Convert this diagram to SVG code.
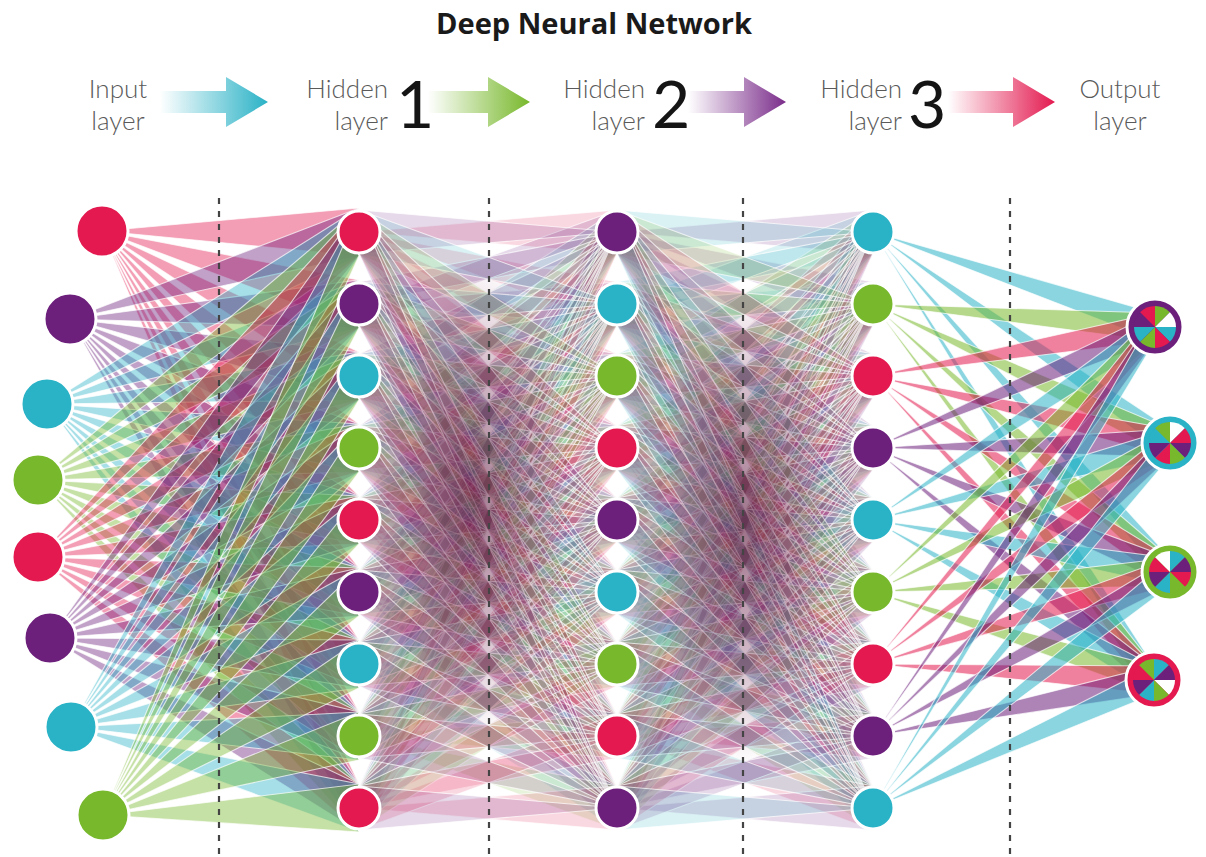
<svg xmlns="http://www.w3.org/2000/svg" xmlns:xlink="http://www.w3.org/1999/xlink" width="1206" height="857" viewBox="0 0 1206 857">
<style>
.hd{font-family:Lato,"Liberation Sans",sans-serif;font-weight:300;font-size:26px;fill:#5a5a5a}
.dg{font-family:Lato,"Liberation Sans",sans-serif;font-weight:400;font-size:66px;fill:#151515}
.ttl{font-family:"Open Sans","Liberation Sans",sans-serif;font-weight:700;font-size:28px;fill:#1a1a1a}
.w{stroke:#fff;stroke-width:1.1;stroke-opacity:.7}
.wa{fill-opacity:.42}.wb{fill-opacity:.17}.wd{fill-opacity:.55}
.r{fill:#e3194f}.p{fill:#6c1f7b}.c{fill:#2ab2c6}.g{fill:#78b82c}
.n{stroke:#fff;stroke-width:3}
.ds{stroke:#444;stroke-width:2.2;stroke-dasharray:6 7;fill:none}
</style>
<defs>
<linearGradient id="gc" x1="0" x2="1" y1="0" y2="0"><stop offset="0" stop-color="#2ab2c6" stop-opacity="0"/><stop offset="1" stop-color="#2ab2c6"/></linearGradient>
<linearGradient id="gg" x1="0" x2="1" y1="0" y2="0"><stop offset="0" stop-color="#78b82c" stop-opacity="0"/><stop offset="1" stop-color="#78b82c"/></linearGradient>
<linearGradient id="gp" x1="0" x2="1" y1="0" y2="0"><stop offset="0" stop-color="#7a2c8a" stop-opacity="0"/><stop offset="1" stop-color="#7a2c8a"/></linearGradient>
<linearGradient id="gr" x1="0" x2="1" y1="0" y2="0"><stop offset="0" stop-color="#e3194f" stop-opacity="0"/><stop offset="1" stop-color="#e3194f"/></linearGradient>
<radialGradient id="dark"><stop offset="0" stop-color="#5a1238" stop-opacity=".6"/><stop offset=".55" stop-color="#6a1a48" stop-opacity=".3"/><stop offset="1" stop-color="#7a2050" stop-opacity="0"/></radialGradient>
<path id="w0" d="M0 0L0-21A21 21 0 0 1 14.85-14.85Z"/>
<path id="w1" d="M0 0L14.85-14.85A21 21 0 0 1 21 0Z"/>
<path id="w2" d="M0 0L21 0A21 21 0 0 1 14.85 14.85Z"/>
<path id="w3" d="M0 0L14.85 14.85A21 21 0 0 1 0 21Z"/>
<path id="w4" d="M0 0L0 21A21 21 0 0 1-14.85 14.85Z"/>
<path id="w5" d="M0 0L-14.85 14.85A21 21 0 0 1-21 0Z"/>
<path id="w6" d="M0 0L-21 0A21 21 0 0 1-14.85-14.85Z"/>
<path id="w7" d="M0 0L-14.85-14.85A21 21 0 0 1 0-21Z"/>
</defs>
<rect width="1206" height="857" fill="#fff"/>
<text class="ttl" x="594" y="34" text-anchor="middle" textLength="316" lengthAdjust="spacingAndGlyphs">Deep Neural Network</text>
<g id="header">
<text class="hd" x="118" y="98" text-anchor="middle">Input</text>
<text class="hd" x="118" y="130" text-anchor="middle">layer</text>
<path d="M160 91H226V77L268 102L226 127V113H160Z" fill="url(#gc)"/>
<text class="hd" x="388" y="98" text-anchor="end">Hidden</text>
<text class="hd" x="388" y="130" text-anchor="end">layer</text>
<text class="dg" x="396" y="128">1</text>
<path d="M428 91H488V77L530 102L488 127V113H428Z" fill="url(#gg)"/>
<text class="hd" x="645" y="98" text-anchor="end">Hidden</text>
<text class="hd" x="645" y="130" text-anchor="end">layer</text>
<text class="dg" x="652" y="128">2</text>
<path d="M688 91H744V77L786 102L744 127V113H688Z" fill="url(#gp)"/>
<text class="hd" x="902" y="98" text-anchor="end">Hidden</text>
<text class="hd" x="902" y="130" text-anchor="end">layer</text>
<text class="dg" x="908" y="128">3</text>
<path d="M948 91H1013V77L1055 102L1013 127V113H948Z" fill="url(#gr)"/>
<text class="hd" x="1120" y="98" text-anchor="middle">Output</text>
<text class="hd" x="1120" y="130" text-anchor="middle">layer</text>
</g>
<g id="connectors">
<g class="w wa">
<path class="r" d="M102 231L359 208V256ZL359 280V328ZL359 352V400ZL359 424V472ZL359 496V544ZL359 568V616ZL359 640V688ZL359 712V760ZL359 784V832Z"/>
<path class="p" d="M70 319L359 208V256ZL359 280V328ZL359 352V400ZL359 424V472ZL359 496V544ZL359 568V616ZL359 640V688ZL359 712V760ZL359 784V832Z"/>
<path class="c" d="M47 404L359 208V256ZL359 280V328ZL359 352V400ZL359 424V472ZL359 496V544ZL359 568V616ZL359 640V688ZL359 712V760ZL359 784V832Z"/>
<path class="g" d="M38 480L359 208V256ZL359 280V328ZL359 352V400ZL359 424V472ZL359 496V544ZL359 568V616ZL359 640V688ZL359 712V760ZL359 784V832Z"/>
<path class="r" d="M38 557L359 208V256ZL359 280V328ZL359 352V400ZL359 424V472ZL359 496V544ZL359 568V616ZL359 640V688ZL359 712V760ZL359 784V832Z"/>
<path class="p" d="M50 638L359 208V256ZL359 280V328ZL359 352V400ZL359 424V472ZL359 496V544ZL359 568V616ZL359 640V688ZL359 712V760ZL359 784V832Z"/>
<path class="c" d="M71 727L359 208V256ZL359 280V328ZL359 352V400ZL359 424V472ZL359 496V544ZL359 568V616ZL359 640V688ZL359 712V760ZL359 784V832Z"/>
<path class="g" d="M103 815L359 208V256ZL359 280V328ZL359 352V400ZL359 424V472ZL359 496V544ZL359 568V616ZL359 640V688ZL359 712V760ZL359 784V832Z"/>
</g>
<g class="w wb">
<path class="r" d="M359 232L617 210V254ZL617 282V326ZL617 354V398ZL617 426V470ZL617 498V542ZL617 570V614ZL617 642V686ZL617 714V758ZL617 786V830Z"/>
<path class="p" d="M359 304L617 210V254ZL617 282V326ZL617 354V398ZL617 426V470ZL617 498V542ZL617 570V614ZL617 642V686ZL617 714V758ZL617 786V830Z"/>
<path class="c" d="M359 376L617 210V254ZL617 282V326ZL617 354V398ZL617 426V470ZL617 498V542ZL617 570V614ZL617 642V686ZL617 714V758ZL617 786V830Z"/>
<path class="g" d="M359 448L617 210V254ZL617 282V326ZL617 354V398ZL617 426V470ZL617 498V542ZL617 570V614ZL617 642V686ZL617 714V758ZL617 786V830Z"/>
<path class="r" d="M359 520L617 210V254ZL617 282V326ZL617 354V398ZL617 426V470ZL617 498V542ZL617 570V614ZL617 642V686ZL617 714V758ZL617 786V830Z"/>
<path class="p" d="M359 592L617 210V254ZL617 282V326ZL617 354V398ZL617 426V470ZL617 498V542ZL617 570V614ZL617 642V686ZL617 714V758ZL617 786V830Z"/>
<path class="c" d="M359 664L617 210V254ZL617 282V326ZL617 354V398ZL617 426V470ZL617 498V542ZL617 570V614ZL617 642V686ZL617 714V758ZL617 786V830Z"/>
<path class="g" d="M359 736L617 210V254ZL617 282V326ZL617 354V398ZL617 426V470ZL617 498V542ZL617 570V614ZL617 642V686ZL617 714V758ZL617 786V830Z"/>
<path class="r" d="M359 808L617 210V254ZL617 282V326ZL617 354V398ZL617 426V470ZL617 498V542ZL617 570V614ZL617 642V686ZL617 714V758ZL617 786V830Z"/>
<path class="p" d="M617 232L359 210V254ZL359 282V326ZL359 354V398ZL359 426V470ZL359 498V542ZL359 570V614ZL359 642V686ZL359 714V758ZL359 786V830Z"/>
<path class="c" d="M617 304L359 210V254ZL359 282V326ZL359 354V398ZL359 426V470ZL359 498V542ZL359 570V614ZL359 642V686ZL359 714V758ZL359 786V830Z"/>
<path class="g" d="M617 376L359 210V254ZL359 282V326ZL359 354V398ZL359 426V470ZL359 498V542ZL359 570V614ZL359 642V686ZL359 714V758ZL359 786V830Z"/>
<path class="r" d="M617 448L359 210V254ZL359 282V326ZL359 354V398ZL359 426V470ZL359 498V542ZL359 570V614ZL359 642V686ZL359 714V758ZL359 786V830Z"/>
<path class="p" d="M617 520L359 210V254ZL359 282V326ZL359 354V398ZL359 426V470ZL359 498V542ZL359 570V614ZL359 642V686ZL359 714V758ZL359 786V830Z"/>
<path class="c" d="M617 592L359 210V254ZL359 282V326ZL359 354V398ZL359 426V470ZL359 498V542ZL359 570V614ZL359 642V686ZL359 714V758ZL359 786V830Z"/>
<path class="g" d="M617 664L359 210V254ZL359 282V326ZL359 354V398ZL359 426V470ZL359 498V542ZL359 570V614ZL359 642V686ZL359 714V758ZL359 786V830Z"/>
<path class="r" d="M617 736L359 210V254ZL359 282V326ZL359 354V398ZL359 426V470ZL359 498V542ZL359 570V614ZL359 642V686ZL359 714V758ZL359 786V830Z"/>
<path class="p" d="M617 808L359 210V254ZL359 282V326ZL359 354V398ZL359 426V470ZL359 498V542ZL359 570V614ZL359 642V686ZL359 714V758ZL359 786V830Z"/>
</g>
<g class="w wb">
<path class="p" d="M617 232L873 210V254ZL873 282V326ZL873 354V398ZL873 426V470ZL873 498V542ZL873 570V614ZL873 642V686ZL873 714V758ZL873 786V830Z"/>
<path class="c" d="M617 304L873 210V254ZL873 282V326ZL873 354V398ZL873 426V470ZL873 498V542ZL873 570V614ZL873 642V686ZL873 714V758ZL873 786V830Z"/>
<path class="g" d="M617 376L873 210V254ZL873 282V326ZL873 354V398ZL873 426V470ZL873 498V542ZL873 570V614ZL873 642V686ZL873 714V758ZL873 786V830Z"/>
<path class="r" d="M617 448L873 210V254ZL873 282V326ZL873 354V398ZL873 426V470ZL873 498V542ZL873 570V614ZL873 642V686ZL873 714V758ZL873 786V830Z"/>
<path class="p" d="M617 520L873 210V254ZL873 282V326ZL873 354V398ZL873 426V470ZL873 498V542ZL873 570V614ZL873 642V686ZL873 714V758ZL873 786V830Z"/>
<path class="c" d="M617 592L873 210V254ZL873 282V326ZL873 354V398ZL873 426V470ZL873 498V542ZL873 570V614ZL873 642V686ZL873 714V758ZL873 786V830Z"/>
<path class="g" d="M617 664L873 210V254ZL873 282V326ZL873 354V398ZL873 426V470ZL873 498V542ZL873 570V614ZL873 642V686ZL873 714V758ZL873 786V830Z"/>
<path class="r" d="M617 736L873 210V254ZL873 282V326ZL873 354V398ZL873 426V470ZL873 498V542ZL873 570V614ZL873 642V686ZL873 714V758ZL873 786V830Z"/>
<path class="p" d="M617 808L873 210V254ZL873 282V326ZL873 354V398ZL873 426V470ZL873 498V542ZL873 570V614ZL873 642V686ZL873 714V758ZL873 786V830Z"/>
<path class="c" d="M873 232L617 210V254ZL617 282V326ZL617 354V398ZL617 426V470ZL617 498V542ZL617 570V614ZL617 642V686ZL617 714V758ZL617 786V830Z"/>
<path class="g" d="M873 304L617 210V254ZL617 282V326ZL617 354V398ZL617 426V470ZL617 498V542ZL617 570V614ZL617 642V686ZL617 714V758ZL617 786V830Z"/>
<path class="r" d="M873 376L617 210V254ZL617 282V326ZL617 354V398ZL617 426V470ZL617 498V542ZL617 570V614ZL617 642V686ZL617 714V758ZL617 786V830Z"/>
<path class="p" d="M873 448L617 210V254ZL617 282V326ZL617 354V398ZL617 426V470ZL617 498V542ZL617 570V614ZL617 642V686ZL617 714V758ZL617 786V830Z"/>
<path class="c" d="M873 520L617 210V254ZL617 282V326ZL617 354V398ZL617 426V470ZL617 498V542ZL617 570V614ZL617 642V686ZL617 714V758ZL617 786V830Z"/>
<path class="g" d="M873 592L617 210V254ZL617 282V326ZL617 354V398ZL617 426V470ZL617 498V542ZL617 570V614ZL617 642V686ZL617 714V758ZL617 786V830Z"/>
<path class="r" d="M873 664L617 210V254ZL617 282V326ZL617 354V398ZL617 426V470ZL617 498V542ZL617 570V614ZL617 642V686ZL617 714V758ZL617 786V830Z"/>
<path class="p" d="M873 736L617 210V254ZL617 282V326ZL617 354V398ZL617 426V470ZL617 498V542ZL617 570V614ZL617 642V686ZL617 714V758ZL617 786V830Z"/>
<path class="c" d="M873 808L617 210V254ZL617 282V326ZL617 354V398ZL617 426V470ZL617 498V542ZL617 570V614ZL617 642V686ZL617 714V758ZL617 786V830Z"/>
</g>
<ellipse cx="472" cy="500" rx="100" ry="240" fill="url(#dark)"/>
<ellipse cx="745" cy="525" rx="95" ry="240" fill="url(#dark)"/>
<g class="w wd">
<path class="c" d="M873 232L1155 313V341ZL1170 429V457ZL1170 558V586ZL1154 666V694Z"/>
<path class="g" d="M873 304L1155 313V341ZL1170 429V457ZL1170 558V586ZL1154 666V694Z"/>
<path class="r" d="M873 376L1155 313V341ZL1170 429V457ZL1170 558V586ZL1154 666V694Z"/>
<path class="p" d="M873 448L1155 313V341ZL1170 429V457ZL1170 558V586ZL1154 666V694Z"/>
<path class="c" d="M873 520L1155 313V341ZL1170 429V457ZL1170 558V586ZL1154 666V694Z"/>
<path class="g" d="M873 592L1155 313V341ZL1170 429V457ZL1170 558V586ZL1154 666V694Z"/>
<path class="r" d="M873 664L1155 313V341ZL1170 429V457ZL1170 558V586ZL1154 666V694Z"/>
<path class="p" d="M873 736L1155 313V341ZL1170 429V457ZL1170 558V586ZL1154 666V694Z"/>
<path class="c" d="M873 808L1155 313V341ZL1170 429V457ZL1170 558V586ZL1154 666V694Z"/>
</g>
</g>
<g id="dividers">
<path class="ds" d="M219 198V857M489 198V857M743 198V857M1010 198V857"/>
</g>
<g id="input-layer">
<g id="in1"><circle class="n r" cx="102" cy="231" r="26"/></g>
<g id="in2"><circle class="n p" cx="70" cy="319" r="26"/></g>
<g id="in3"><circle class="n c" cx="47" cy="404" r="26"/></g>
<g id="in4"><circle class="n g" cx="38" cy="480" r="26"/></g>
<g id="in5"><circle class="n r" cx="38" cy="557" r="26"/></g>
<g id="in6"><circle class="n p" cx="50" cy="638" r="26"/></g>
<g id="in7"><circle class="n c" cx="71" cy="727" r="26"/></g>
<g id="in8"><circle class="n g" cx="103" cy="815" r="26"/></g>
</g>
<g id="hidden-1">
<g id="h1-1"><circle class="n r" cx="359" cy="232" r="21"/></g>
<g id="h1-2"><circle class="n p" cx="359" cy="304" r="21"/></g>
<g id="h1-3"><circle class="n c" cx="359" cy="376" r="21"/></g>
<g id="h1-4"><circle class="n g" cx="359" cy="448" r="21"/></g>
<g id="h1-5"><circle class="n r" cx="359" cy="520" r="21"/></g>
<g id="h1-6"><circle class="n p" cx="359" cy="592" r="21"/></g>
<g id="h1-7"><circle class="n c" cx="359" cy="664" r="21"/></g>
<g id="h1-8"><circle class="n g" cx="359" cy="736" r="21"/></g>
<g id="h1-9"><circle class="n r" cx="359" cy="808" r="21"/></g>
</g>
<g id="hidden-2">
<g id="h2-1"><circle class="n p" cx="617" cy="232" r="21"/></g>
<g id="h2-2"><circle class="n c" cx="617" cy="304" r="21"/></g>
<g id="h2-3"><circle class="n g" cx="617" cy="376" r="21"/></g>
<g id="h2-4"><circle class="n r" cx="617" cy="448" r="21"/></g>
<g id="h2-5"><circle class="n p" cx="617" cy="520" r="21"/></g>
<g id="h2-6"><circle class="n c" cx="617" cy="592" r="21"/></g>
<g id="h2-7"><circle class="n g" cx="617" cy="664" r="21"/></g>
<g id="h2-8"><circle class="n r" cx="617" cy="736" r="21"/></g>
<g id="h2-9"><circle class="n p" cx="617" cy="808" r="21"/></g>
</g>
<g id="hidden-3">
<g id="h3-1"><circle class="n c" cx="873" cy="232" r="21"/></g>
<g id="h3-2"><circle class="n g" cx="873" cy="304" r="21"/></g>
<g id="h3-3"><circle class="n r" cx="873" cy="376" r="21"/></g>
<g id="h3-4"><circle class="n p" cx="873" cy="448" r="21"/></g>
<g id="h3-5"><circle class="n c" cx="873" cy="520" r="21"/></g>
<g id="h3-6"><circle class="n g" cx="873" cy="592" r="21"/></g>
<g id="h3-7"><circle class="n r" cx="873" cy="664" r="21"/></g>
<g id="h3-8"><circle class="n p" cx="873" cy="736" r="21"/></g>
<g id="h3-9"><circle class="n c" cx="873" cy="808" r="21"/></g>
</g>
<g id="output-layer">
<g id="out1" transform="translate(1155 327)"><circle class="n p" r="28"/>
<use href="#w0" fill="#78b82c"/><use href="#w1" fill="#ffffff"/><use href="#w2" fill="#2ab2c6"/><use href="#w3" fill="#e3194f"/><use href="#w4" fill="#78b82c"/><use href="#w5" fill="#2ab2c6"/><use href="#w6" fill="#6c1f7b"/><use href="#w7" fill="#e3194f"/></g>
<g id="out2" transform="translate(1170 443)"><circle class="n c" r="28"/>
<use href="#w0" fill="#ffffff"/><use href="#w1" fill="#e3194f"/><use href="#w2" fill="#6c1f7b"/><use href="#w3" fill="#78b82c"/><use href="#w4" fill="#e3194f"/><use href="#w5" fill="#6c1f7b"/><use href="#w6" fill="#2ab2c6"/><use href="#w7" fill="#78b82c"/></g>
<g id="out3" transform="translate(1170 572)"><circle class="n g" r="28"/>
<use href="#w0" fill="#2ab2c6"/><use href="#w1" fill="#6c1f7b"/><use href="#w2" fill="#e3194f"/><use href="#w3" fill="#78b82c"/><use href="#w4" fill="#2ab2c6"/><use href="#w5" fill="#6c1f7b"/><use href="#w6" fill="#e3194f"/><use href="#w7" fill="#ffffff"/></g>
<g id="out4" transform="translate(1154 680)"><circle class="n r" r="28"/>
<use href="#w0" fill="#2ab2c6"/><use href="#w1" fill="#6c1f7b"/><use href="#w2" fill="#ffffff"/><use href="#w3" fill="#78b82c"/><use href="#w4" fill="#2ab2c6"/><use href="#w5" fill="#6c1f7b"/><use href="#w6" fill="#e3194f"/><use href="#w7" fill="#78b82c"/></g>
</g>
</svg>
